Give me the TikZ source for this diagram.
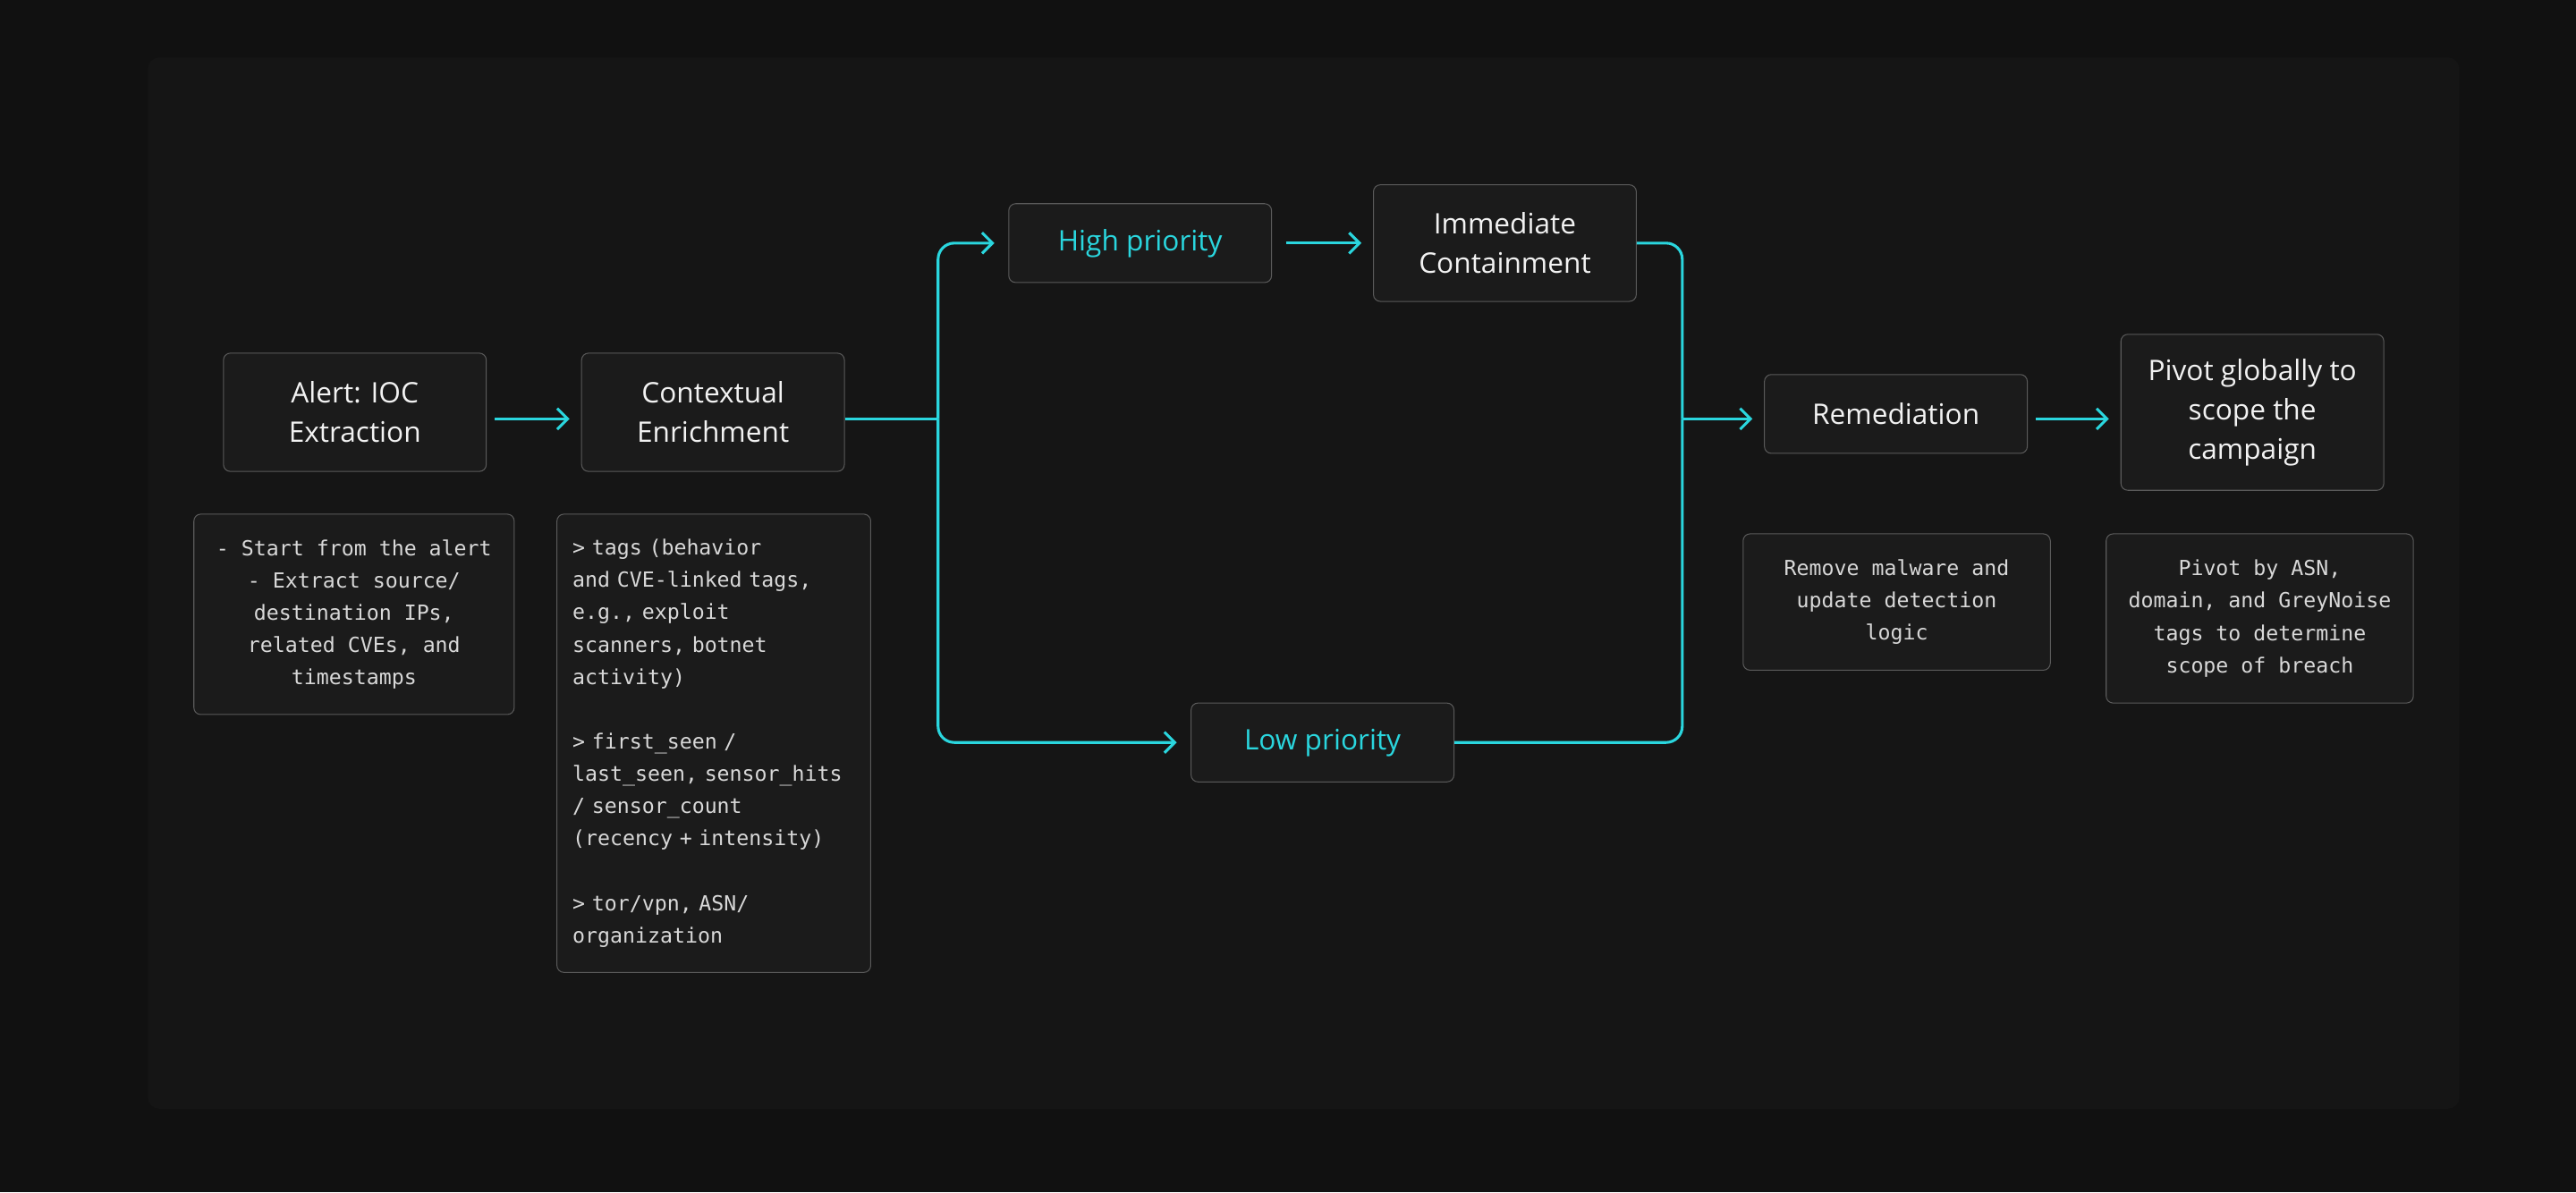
\documentclass[tikz,border=0pt]{standalone}
\usepackage{fontspec}
\setmainfont{Open Sans}
\newfontfamily\monof{DejaVu Sans Mono}
\usetikzlibrary{arrows.meta}
\definecolor{bgc}{HTML}{111111}
\definecolor{panel}{HTML}{151515}
\definecolor{boxf}{HTML}{1B1B1B}
\definecolor{boxd}{HTML}{5A5A5A}
\definecolor{cy}{HTML}{2AD6DE}
\definecolor{txt}{HTML}{F2F2F2}
\definecolor{mtxt}{HTML}{D8D8D8}
\tikzset{
 titlebox/.style={draw=boxd,fill=boxf,rounded corners=6pt,line width=0.8pt,text=txt,align=center,font=\fontsize{24.5}{34}\selectfont,minimum width=8cm,inner sep=0pt},
 descbox/.style={draw=boxd,fill=boxf,rounded corners=6pt,line width=0.8pt,text=mtxt,font=\monof\fontsize{18}{28}\selectfont,inner sep=0pt},
 conn/.style={draw=cy,line width=2.4pt,rounded corners=14pt},
 arr/.style={conn,-{Straight Barb[length=9pt,width=18pt,line width=2.4pt]},shorten >=10pt}
}
\begin{document}
\begin{tikzpicture}[x=0.05cm,y=-0.05cm]
\useasboundingbox (0,0) rectangle (1568,726);
\fill[bgc] (0,0) rectangle (1568,726);
\fill[panel,rounded corners=10pt] (90,35) rectangle (1497,675);
\node[titlebox,minimum height=3.6cm] (alert) at (216,251) {Alert: IOC\\Extraction};
\node[titlebox,minimum height=3.6cm] (ctx) at (434,251) {Contextual\\Enrichment};
\node[titlebox,minimum height=2.4cm,text=cy] (high) at (694,148) {High priority};
\node[titlebox,minimum height=3.55cm] (imm) at (916,148) {Immediate\\Containment};
\node[titlebox,minimum height=2.4cm,text=cy] (low) at (805,452) {Low priority};
\node[titlebox,minimum height=2.4cm] (rem) at (1154,252) {Remediation};
\node[titlebox,minimum height=4.75cm] (piv) at (1371,251) {Pivot globally to\\scope the\\campaign};
\node[descbox,minimum width=9.75cm,minimum height=6.1cm,align=center] (d1) at (215.5,374) {- Start from the alert\\- Extract source/\\destination IPs,\\related CVEs, and\\timestamps};
\node[descbox,minimum width=9.55cm,minimum height=13.95cm,align=left,text width=8.6cm] (d2) at (434.5,452.5) {> tags (behavior\\and CVE-linked tags,\\e.g., exploit\\scanners, botnet\\activity)\\ \strut\\> first\_seen /\\last\_seen, sensor\_hits\\/ sensor\_count\\(recency + intensity)\\ \strut\\> tor/vpn, ASN/\\organization};
\node[descbox,minimum width=9.35cm,minimum height=4.15cm,align=center] (d3) at (1154.5,366.5) {Remove malware and\\update detection\\logic};
\node[descbox,minimum width=9.35cm,minimum height=5.15cm,align=center] (d4) at (1375.5,376.5) {Pivot by ASN,\\domain, and GreyNoise\\tags to determine\\scope of breach};
\coordinate (j1) at (571,255);
\coordinate (j2) at (1024,255);
\draw[arr] ([xshift=7pt]alert.east |- j1) -- (ctx.west |- j1);
\draw[conn] (ctx.east |- j1) -- (j1);
\draw[arr] (j1) |- ([xshift=-2pt]high.west);
\draw[arr] (j1) |- ([xshift=-2pt]low.west);
\draw[arr] ([xshift=12pt]high.east) -- (imm.west);
\draw[conn] (imm.east) -| (j2);
\draw[conn] (low.east) -| (j2);
\draw[arr] (j2) -- (rem.west |- j2);
\draw[arr] ([xshift=7pt]rem.east |- j2) -- (piv.west |- j2);
\end{tikzpicture}
\end{document}
